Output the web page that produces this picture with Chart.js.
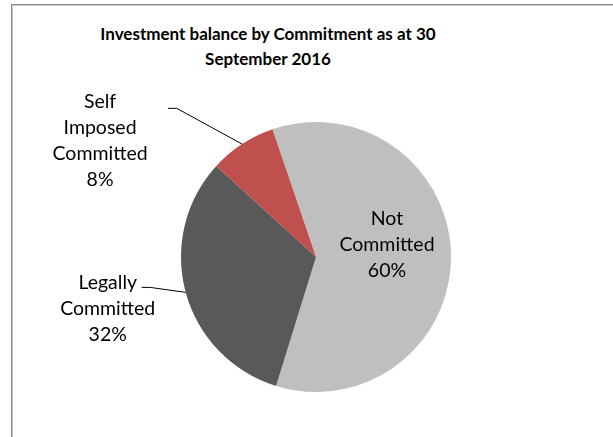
<!DOCTYPE html>
<html>
<head>
<meta charset="utf-8">
<script src="https://cdn.jsdelivr.net/npm/chart.js@4"></script>
<style>
  body { margin: 0; background: #fff; overflow: hidden; }
  #wrap { position: relative; width: 613px; height: 437px; overflow: hidden; }
  #frame {
    position: absolute; left: 11px; top: 4px; width: 900px; height: 800px;
    border-left: 1px solid #8a8a8a; border-top: 1px solid #8a8a8a;
    box-shadow: inset 1px 1px 0 #c8c8c8;
  }
  #title {
    position: absolute; left: 68px; width: 400px; top: 21px;
    text-align: center; font: bold 17px Lato, sans-serif; line-height: 25px; color: #000;
  }
  #chart { position: absolute; left: 0; top: 0; }
</style>
</head>
<body>
<div id="wrap">
  <div id="frame"></div>
  <div id="title">Investment balance by Commitment as at 30<br>September 2016</div>
  <canvas id="chart" width="613" height="437"></canvas>
</div>
<script>
const labels = [["Not", "Committed"], ["Legally", "Committed"], ["Self", "Imposed", "Committed"]];
const shares = [60, 32, 8];
const colors = ["#bfbfbf", "#595959", "#c0504d"];

// label placement, relative to the point where each slice's mid angle meets the rim
const labelSpots = [
  { dx: -64, dy: -10 },
  { dx: -78, dy: 16, leader: [[-44, -5], [-35.5, -5]] },
  { dx: -142, dy: -3, leader: [[-74, -35.7], [-65.4, -35.7]] }
];

const sliceLabels = {
  id: "sliceLabels",
  afterDatasetsDraw(chart) {
    const c = chart.ctx;
    const arcs = chart.getDatasetMeta(0).data;
    c.save();
    c.font = "19.5px Lato, sans-serif";
    c.fillStyle = "#000";
    c.textAlign = "center";
    c.textBaseline = "middle";
    arcs.forEach((arc, i) => {
      const p = arc.getProps(["x", "y", "startAngle", "endAngle", "outerRadius"], true);
      const mid = (p.startAngle + p.endAngle) / 2;
      const ex = p.x + Math.cos(mid) * p.outerRadius;
      const ey = p.y + Math.sin(mid) * p.outerRadius;
      const spot = labelSpots[i];
      const lines = labels[i].concat(shares[i] + "%");
      const lh = 26;
      const top = ey + spot.dy - (lines.length - 1) * lh / 2;
      lines.forEach((t, k) => c.fillText(t, ex + spot.dx, top + k * lh));
      if (spot.leader) {
        c.beginPath();
        c.strokeStyle = "#000";
        c.lineWidth = 1;
        c.moveTo(ex + spot.leader[0][0], ey + spot.leader[0][1]);
        c.lineTo(ex + spot.leader[1][0], ey + spot.leader[1][1]);
        c.lineTo(ex, ey);
        c.stroke();
      }
    });
    c.restore();
  }
};

new Chart(document.getElementById("chart"), {
  type: "pie",
  data: {
    labels: labels.map(l => l.join(" ")),
    datasets: [{
      data: shares,
      backgroundColor: colors,
      borderWidth: 0
    }]
  },
  options: {
    responsive: false,
    animation: false,
    rotation: -18.8,
    layout: { padding: { left: 181, right: 162, top: 122, bottom: 45 } },
    plugins: {
      legend: { display: false },
      tooltip: { enabled: false }
    }
  },
  plugins: [sliceLabels]
});
</script>
</body>
</html>
